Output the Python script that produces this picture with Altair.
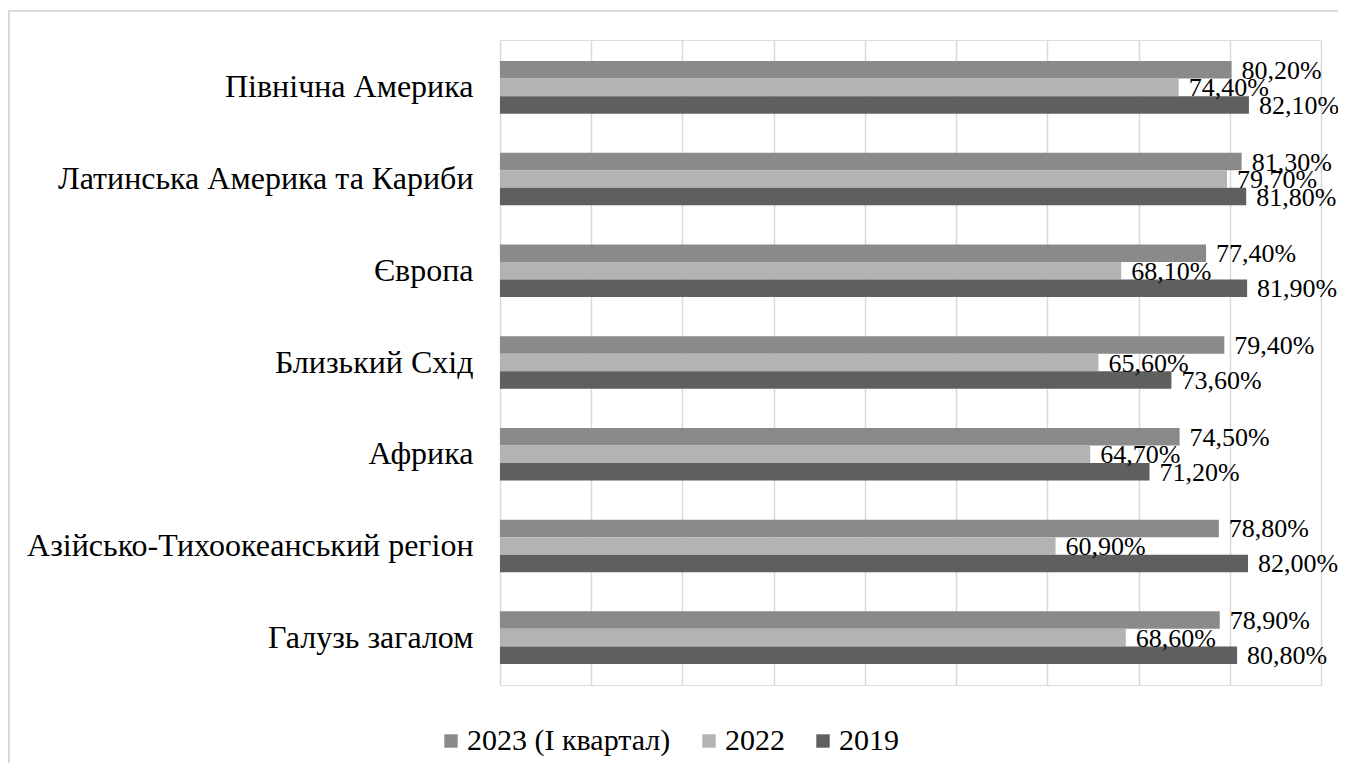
import altair as alt
import pandas as pd

categories = ["Північна Америка", "Латинська Америка та Кариби", "Європа",
              "Близький Схід", "Африка", "Азійсько-Тихоокеанський регіон",
              "Галузь загалом"]
series = ["2023 (I квартал)", "2022", "2019"]
s2023 = [80.2, 81.3, 77.4, 79.4, 74.5, 78.8, 78.9]
s2022 = [74.4, 79.7, 68.1, 65.6, 64.7, 60.9, 68.6]
s2019 = [82.1, 81.8, 81.9, 73.6, 71.2, 82.0, 80.8]
colors = ["#8a8a8a", "#b3b3b3", "#5f5f5f"]
grid_values = [0, 10, 20, 30, 40, 50, 60, 70, 80, 90]

rows = []
for vals, s in zip([s2023, s2022, s2019], series):
    for c, v in zip(categories, vals):
        rows.append({"cat": c, "series": s, "value": v})
df = pd.DataFrame(rows)

FONT = "Liberation Serif"

y_enc = alt.Y("cat:N", sort=categories,
              scale=alt.Scale(paddingInner=0.427, paddingOuter=0.23),
              axis=alt.Axis(title=None, ticks=False, domain=False, labelFont=FONT,
                            labelFontSize=32, labelColor="#000000", labelPadding=27,
                            labelLimit=600, grid=False))
yoff = alt.YOffset("series:N", sort=series,
                   scale=alt.Scale(paddingInner=0, paddingOuter=0))
x_enc = alt.X("value:Q", scale=alt.Scale(domain=[0, 90], nice=False),
              axis=alt.Axis(title=None, labels=False, ticks=False, domain=False,
                            values=grid_values, labelOverlap=False,
                            grid=True, gridColor="#d9d9d9", gridWidth=1.5))

base = alt.Chart(df)

bars = base.mark_bar().encode(
    x=x_enc, y=y_enc, yOffset=yoff,
    color=alt.Color("series:N", sort=series,
                    scale=alt.Scale(domain=series, range=colors),
                    legend=alt.Legend(title=None, orient="none", direction="horizontal",
                                      legendX=-64, legendY=686,
                                      symbolType="square", symbolSize=180,
                                      symbolStrokeWidth=0,
                                      labelFont=FONT, labelFontSize=30,
                                      labelColor="#000000", labelOffset=1,
                                      labelLimit=400, columnPadding=23)),
)

labels = base.transform_calculate(
    lab="replace(format(datum.value, '.2f'), '.', ',') + '%'"
).mark_text(align="left", baseline="middle", dx=10, dy=1, font=FONT,
            fontSize=26, color="#000000").encode(
    x="value:Q", y=alt.Y("cat:N", sort=categories), yOffset=alt.YOffset("series:N", sort=series),
    text="lab:N",
)

border = alt.Chart(pd.DataFrame({"a": [0]})).mark_rect(
    fill=None, stroke="#d9d9d9", strokeWidth=2
).encode(x=alt.value(-491), x2=alt.value(1200), y=alt.value(-29), y2=alt.value(900))

chart = alt.layer(border, bars, labels).properties(
    width=821, height=645,
    autosize=alt.AutoSizeParams(type="none"),
    padding={"left": 492, "top": 32, "right": 17, "bottom": 78},
).configure_view(stroke=None).configure(background="#ffffff")

chart.save("out.html", embed_options={"renderer": "svg", "actions": False})
